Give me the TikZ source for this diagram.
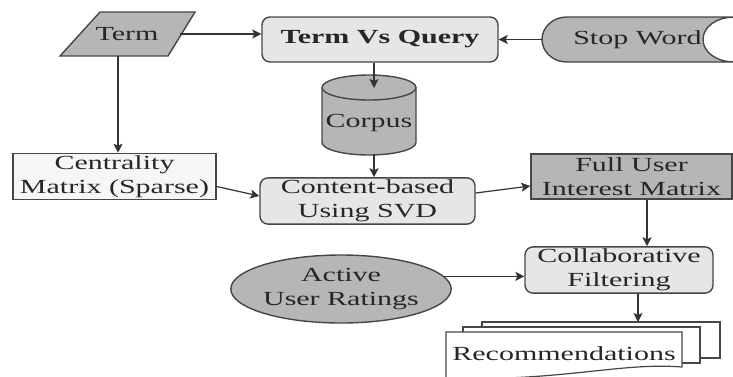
\documentclass[tikz,border=0pt]{standalone}
\usepackage{fontspec}
\setmainfont{Liberation Serif}[FakeStretch=1.5]
\usepackage{tikz}
\usetikzlibrary{calc, shapes.geometric, positioning, arrows.meta}

\definecolor{darkfill}{RGB}{182,182,182}
\definecolor{lightfill}{RGB}{230,230,230}
\definecolor{palefill}{RGB}{246,246,246}
\definecolor{edgegray}{RGB}{70,70,70}

\tikzset{
    procbox/.style={draw=edgegray, line width=0.7pt, fill=lightfill, rounded corners=4pt,
        align=center, inner sep=1pt, text=black!85},
    matbox/.style={draw=edgegray, line width=0.7pt, align=center, inner sep=1pt, text=black!85},
    flow/.style={->, draw=black!80, line width=0.6pt}
}

\begin{document}
\begin{tikzpicture}[>={Stealth[length=4.5pt, width=4.5pt, inset=1pt]}, x=0.5pt, y=-0.5pt]
    \useasboundingbox (0,0) rectangle (733,376);

    % =================================================================
    % PART 1: INPUTS ON THE TOP ROW
    % =================================================================
    % Term (parallelogram drawn by hand, text node on top)
    \draw[edgegray, line width=0.7pt, fill=darkfill] (60,56) -- (100,12) -- (195,12) -- (168,56) -- cycle;
    \node[text=black!85, minimum width=53pt, minimum height=22pt, inner sep=0pt] (term) at (127,34) {Term};

    % Term Vs Query
    \node[procbox, minimum width=118pt, minimum height=22.5pt] (tvq) at (380,39.5) {\bfseries Term Vs Query};

    % Stop Word (stored data shape)
    \draw[edgegray, line width=0.7pt, fill=darkfill]
        (735,17) -- (567,17) .. controls (552,17) and (542,28) .. (542,39.5)
        .. controls (542,51) and (552,62) .. (567,62) -- (735,62)
        .. controls (716,62) and (703,52) .. (703,39.5)
        .. controls (703,27) and (716,17) .. (735,17);
    \node[text=black!85, minimum width=95.5pt, minimum height=22.5pt, inner sep=0pt] (stopword) at (637.5,39.5) {Stop Word};

    % Corpus (cylinder)
    \fill[darkfill] (322,87.5) -- (322,142.5) arc[start angle=180, end angle=360, x radius=23.5pt, y radius=6.25pt]
        -- (416,87.5) arc[start angle=0, end angle=180, x radius=23.5pt, y radius=6.25pt] -- cycle;
    \draw[edgegray, line width=0.7pt] (322,87.5) -- (322,142.5) arc[start angle=180, end angle=360, x radius=23.5pt, y radius=6.25pt]
        -- (416,87.5);
    \draw[edgegray, line width=0.7pt] (369,87.5) ellipse [x radius=23.5pt, y radius=6.25pt];
    \node[text=black!85, inner sep=0pt] (corpus) at (369,123) {Corpus};
    \coordinate (corpustop) at (374,88);
    \coordinate (corpusbot) at (374,155);

    % =================================================================
    % PART 2: MATRICES AND FILTERING
    % =================================================================
    \node[matbox, fill=palefill, minimum width=101.5pt, minimum height=22.5pt] (centrality) at (114.5,176.5) {Centrality\\Matrix (Sparse)};
    \node[procbox, minimum width=107.5pt, minimum height=21pt] (content) at (367.5,201) {Content-based\\Using SVD};
    \node[matbox, fill=darkfill, minimum width=100.5pt, minimum height=22.5pt] (full) at (631.5,176.5) {Full User\\Interest Matrix};
    \node[procbox, minimum width=94pt, minimum height=22pt] (collab) at (619,270) {Collaborative\\Filtering};
    \node[ellipse, draw=edgegray, line width=0.7pt, fill=darkfill, text=black!85, align=center,
        minimum width=105.5pt, minimum height=34pt, inner sep=0pt] (active) at (341,289) {Active\\User Ratings};

    % Recommendations (stacked documents)
    \draw[edgegray, line width=0.6pt, fill=white] (482,322) rectangle (720,358);
    \draw[edgegray, line width=0.6pt, fill=white] (463,327) rectangle (700,363);
    \draw[edgegray, line width=0.6pt, fill=white] (446,378) -- (446,332) -- (682,332) -- (682,367)
        .. controls (620,362) and (560,382) .. (446,378);
    \node[text=black!85, inner sep=0pt] (recs) at (564,354) {Recommendations};
    \coordinate (recstop) at (638,322);

    % =================================================================
    % PART 3: CONNECTORS
    % =================================================================
    \draw[flow] (term.east) -- (term.east -| tvq.west);
    \draw[flow] (stopword.west) -- (stopword.west -| tvq.east);
    \draw[flow] (tvq.south -| corpustop) -- (corpustop);
    \draw[flow] ([xshift=-4.5pt]term.south) -- ([xshift=-4.5pt]term.south |- centrality.north);
    \draw[flow] (corpusbot) -- (corpusbot |- content.north);
    \draw[flow] ([yshift=-5pt]centrality.east) -- ([yshift=2.5pt]content.west);
    \draw[flow] ([yshift=4pt]content.east) -- ([yshift=-4.75pt]full.west);
    \draw[flow] ([xshift=7.75pt]full.south) -- ([xshift=7.75pt]full.south |- collab.north);
    \draw[flow] (active.7) -- (active.7 -| collab.west);
    \draw[flow] (collab.south -| recstop) -- (recstop);

\end{tikzpicture}
\end{document}
